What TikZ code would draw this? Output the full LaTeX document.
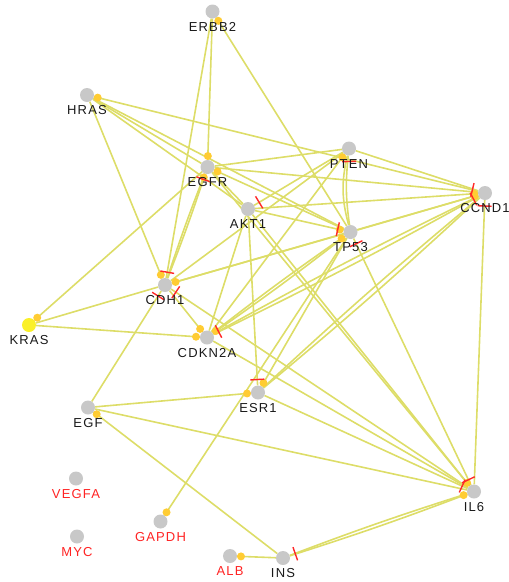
\documentclass[tikz,border=0pt]{standalone}
\usepackage{fontspec}
\setmainfont{Liberation Sans}
\usetikzlibrary{calc,backgrounds}

\definecolor{edgecol}{RGB}{221,221,104}
\definecolor{dotcol}{RGB}{255,204,51}
\definecolor{inhcol}{RGB}{255,40,40}
\definecolor{genecol}{RGB}{200,200,200}
\definecolor{krascol}{RGB}{250,240,40}
\definecolor{lonecol}{RGB}{255,35,35}

\newcommand{\actdot}[2]{\fill[actdot] ($(#2)!11pt!(#1)$) circle (4pt);}
\newcommand{\inhbar}[2]{%
    \path ($(#2)!13pt!(#1)$) coordinate (ib);
    \draw[inhbar] ($(ib)!7pt!90:(#2)$) -- ($(ib)!7pt!-90:(#2)$);}

\begin{document}
\begin{tikzpicture}[
    x=1pt, y=-1pt,
    gene/.style={circle, fill=genecol, inner sep=0pt, minimum size=14pt,
        label={[genelbl]below:#1}},
    lone/.style={circle, fill=genecol, inner sep=0pt, minimum size=14pt,
        label={[genelbl, text=lonecol]below:#1}},
    genelbl/.style={font=\fontsize{13}{15}\selectfont\addfontfeature{LetterSpace=9},
        text=black!90, label distance=0pt},
    edge/.style={draw=edgecol, line width=1.6pt},
    actdot/.style={fill=dotcol},
    inhbar/.style={draw=inhcol, line width=1.4pt}
]
    \useasboundingbox (0,0) rectangle (509,582);

    % Genes
    \node[gene=ERBB2] (ERBB2) at (212.5,11.5) {};
    \node[gene=HRAS] (HRAS) at (87,95) {};
    \node[gene=EGFR] (EGFR) at (207.5,167) {};
    \node[gene=PTEN] (PTEN) at (349,148.5) {};
    \node[gene=CCND1] (CCND1) at (485,193) {};
    \node[gene=AKT1] (AKT1) at (248,209) {};
    \node[gene=TP53] (TP53) at (350.5,232) {};
    \node[gene=CDH1] (CDH1) at (165,285) {};
    \node[gene=KRAS, fill=krascol] (KRAS) at (29,325) {};
    \node[gene=CDKN2A] (CDKN2A) at (207,337.5) {};
    \node[gene=EGF] (EGF) at (88,407.5) {};
    \node[gene=ESR1] (ESR1) at (258,392.5) {};
    \node[gene=IL6] (IL6) at (474,491.5) {};
    \node[gene=INS] (INS) at (283,558) {};
    \node[lone=VEGFA] (VEGFA) at (76,478.5) {};
    \node[lone=MYC] (MYC) at (77,536.5) {};
    \node[lone=GAPDH] (GAPDH) at (160.5,521.5) {};
    \node[lone=ALB] (ALB) at (230,556) {};

    \begin{pgfonlayer}{background}
    % Interactions
    \foreach \a/\b in {ERBB2/EGFR, ERBB2/CDH1, ERBB2/TP53,
        HRAS/CCND1, HRAS/EGFR, HRAS/AKT1, HRAS/TP53, HRAS/CDH1,
        EGFR/KRAS, EGFR/AKT1, EGFR/TP53,
        EGFR/PTEN, EGFR/CCND1, EGFR/IL6,
        PTEN/CCND1, PTEN/AKT1, PTEN/CDKN2A, PTEN/CDH1,
        AKT1/TP53, AKT1/CCND1, AKT1/ESR1, AKT1/IL6, AKT1/CDKN2A,
        TP53/CCND1, TP53/CDH1, TP53/ESR1, TP53/IL6, TP53/GAPDH,
        CCND1/IL6, CCND1/CDH1,
        KRAS/CDH1, KRAS/CDKN2A,
        CDH1/CDKN2A, CDH1/EGF, CDH1/IL6, CDKN2A/IL6,
        ESR1/EGF, ESR1/IL6, EGF/IL6, EGF/INS, INS/ALB}
        \draw[edge] (\a) -- (\b);

    % Double interactions
    \draw[edge] (PTEN) to[bend right=14] (TP53);
    \draw[edge] (PTEN) to[bend right=7] (TP53);
    \foreach \a/\b in {CCND1/CDKN2A, CCND1/ESR1, INS/IL6, EGFR/CDH1, TP53/CDKN2A} {
        \draw[edge] (\a) to[bend left=1.5] (\b);
        \draw[edge] (\a) to[bend right=1.5] (\b);
    }

    % Activation ends
    \actdot{TP53}{ERBB2}
    \actdot{CCND1}{HRAS}
    \actdot{ERBB2}{EGFR}
    \actdot{TP53}{EGFR}
    \actdot{CDH1}{EGFR}
    \actdot{CDKN2A}{PTEN}
    \actdot{TP53}{CCND1}
    \actdot{CDH1}{CCND1}
    \actdot{AKT1}{CCND1}
    \actdot{AKT1}{TP53}
    \actdot{CDKN2A}{TP53}
    \actdot{HRAS}{CDH1}
    \actdot{TP53}{CDH1}
    \actdot{EGFR}{KRAS}
    \actdot{CDH1}{CDKN2A}
    \actdot{KRAS}{CDKN2A}
    \actdot{TP53}{CDKN2A}
    \actdot{EGF}{ESR1}
    \actdot{TP53}{ESR1}
    \actdot{INS}{EGF}
    \actdot{TP53}{GAPDH}
    \actdot{INS}{ALB}
    \actdot{INS}{IL6}
    \actdot{AKT1}{IL6}

    % Inhibition ends
    \inhbar{CDH1}{EGFR}
    \inhbar{TP53}{PTEN}
    \inhbar{PTEN}{AKT1}
    \inhbar{HRAS}{CCND1}
    \inhbar{CDKN2A}{CCND1}
    \inhbar{IL6}{CCND1}
    \inhbar{AKT1}{TP53}
    \inhbar{IL6}{TP53}
    \inhbar{ERBB2}{CDH1}
    \inhbar{IL6}{CDH1}
    \inhbar{EGF}{CDH1}
    \inhbar{CCND1}{CDKN2A}
    \inhbar{AKT1}{ESR1}
    \inhbar{ESR1}{IL6}
    \inhbar{TP53}{IL6}
    \inhbar{IL6}{INS}
    \end{pgfonlayer}

\end{tikzpicture}
\end{document}
